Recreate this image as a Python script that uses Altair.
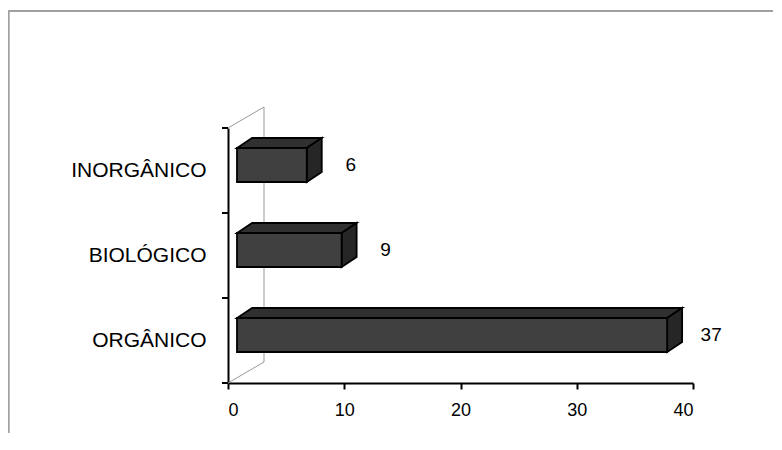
import altair as alt
import pandas as pd

# ---- data ----
categories = ["ORGÂNICO", "BIOLÓGICO", "INORGÂNICO"]
values = [37, 9, 6]
x_ticks = [0, 10, 20, 30, 40]

# ---- geometry constants (pixels) ----
W, H = 465, 255
X_MAX, Y_MAX = 40, 3
PX_X = W / X_MAX
PX_Y = H / Y_MAX
FRONT_SHIFT_X = 9      # bar front starts right of axis
BAR_RAISE = 5.5        # bar center above band center
BAR_HALF = 17
DEPTH_X, DEPTH_Y = 15, 10
WALL_X, WALL_Y = 36, 21
FONT = "Liberation Sans, Arial, sans-serif"

rows = []
for i, (c, v) in enumerate(zip(categories, values)):
    center = i + 0.5 + BAR_RAISE / PX_Y
    rows.append(dict(cat=c, val=v, idx=i,
                     xl=FRONT_SHIFT_X / PX_X,
                     xr=v + FRONT_SHIFT_X / PX_X,
                     yt=center + BAR_HALF / PX_Y,
                     yb=center - BAR_HALF / PX_Y,
                     yc=i + 0.5))
bars = pd.DataFrame(rows)

dx = DEPTH_X / PX_X
dy = DEPTH_Y / PX_Y
top_rows, side_rows = [], []
for r in rows:
    top_rows.append(dict(cat=r["cat"], y=r["yt"], x=r["xl"], x2=r["xr"]))
    top_rows.append(dict(cat=r["cat"], y=r["yt"] + dy, x=r["xl"] + dx, x2=r["xr"] + dx))
    side_rows.append(dict(cat=r["cat"], x=r["xr"], y=r["yb"], y2=r["yt"]))
    side_rows.append(dict(cat=r["cat"], x=r["xr"] + dx, y=r["yb"] + dy, y2=r["yt"] + dy))
top_df = pd.DataFrame(top_rows)
side_df = pd.DataFrame(side_rows)

wx, wy = WALL_X / PX_X, WALL_Y / PX_Y
wall = pd.DataFrame(dict(x=[0, wx, wx, 0], y=[0, wy, Y_MAX + wy, Y_MAX], o=[0, 1, 2, 3]))
yticks = pd.DataFrame(dict(y=[0, 1, 2, 3]))

xs = alt.Scale(domain=[0, X_MAX], nice=False, zero=False)
ys = alt.Scale(domain=[0, Y_MAX], nice=False, zero=False)

label_map = "{" + ",".join(f"'{i + 0.5}':'{c}'" for i, c in enumerate(categories)) + "}"

base_x_axis = alt.Axis(values=x_ticks, grid=False, title=None, domainColor="black",
                       domainWidth=2, tickColor="black", tickWidth=2, tickSize=6,
                       labelFont=FONT, labelFontSize=18, labelColor="black", labelPadding=12)
base_y_axis = alt.Axis(values=[0.5, 1.5, 2.5], grid=False, title=None, ticks=False,
                       domainColor="black", domainWidth=2,
                       labelExpr=f"{label_map}[toString(datum.value)]",
                       labelFont=FONT, labelFontSize=21, labelColor="black", labelPadding=22)

wall_layer = alt.Chart(wall).mark_line(color="#999999", strokeWidth=1).encode(
    x=alt.X("x:Q", scale=xs, axis=base_x_axis),
    y=alt.Y("y:Q", scale=ys, axis=base_y_axis),
    order="o:Q")

tick_layer = alt.Chart(yticks).mark_rule(color="black", strokeWidth=2).encode(
    x=alt.value(-6), x2=alt.value(0), y=alt.Y("y:Q", scale=ys))

top_layer = alt.Chart(top_df).mark_area(orient="horizontal", color="#303030",
                                        stroke="black", strokeWidth=1.8, line=False).encode(
    y=alt.Y("y:Q", scale=ys), x=alt.X("x:Q", scale=xs), x2="x2:Q", detail="cat:N")

side_layer = alt.Chart(side_df).mark_area(orient="vertical", color="#262626",
                                          stroke="black", strokeWidth=1.8).encode(
    x=alt.X("x:Q", scale=xs), y=alt.Y("y:Q", scale=ys), y2="y2:Q", detail="cat:N")

front_layer = alt.Chart(bars).mark_rect(color="#404040", stroke="black", strokeWidth=1.8).encode(
    x=alt.X("xl:Q", scale=xs), x2="xr:Q", y=alt.Y("yb:Q", scale=ys), y2="yt:Q")

text_layer = alt.Chart(bars).mark_text(font=FONT, fontSize=19, color="black",
                                       align="center", baseline="middle",
                                       dx=FRONT_SHIFT_X + DEPTH_X + 29, dy=-BAR_RAISE).encode(
    x=alt.X("val:Q", scale=xs), y=alt.Y("yc:Q", scale=ys), text="val:Q")

frame_top = alt.Chart(yticks).mark_rule(color="#a0a0a0", strokeWidth=1.5).encode(
    x=alt.value(-219.5), x2=alt.value(560), y=alt.value(-117))
frame_left = alt.Chart(yticks).mark_rule(color="#a0a0a0", strokeWidth=1.5).encode(
    x=alt.value(-219.5), y=alt.value(-117), y2=alt.value(310))

chart = alt.layer(frame_top, frame_left, wall_layer, tick_layer, top_layer, side_layer,
                  front_layer, text_layer).properties(
    width=W, height=H,
    autosize=alt.AutoSizeParams(type="none"),
    padding={"left": 220, "top": 120, "right": 80, "bottom": 50},
    background="white",
).configure_view(stroke=None)

chart.save("out.html", embed_options={"renderer": "svg", "actions": False})
